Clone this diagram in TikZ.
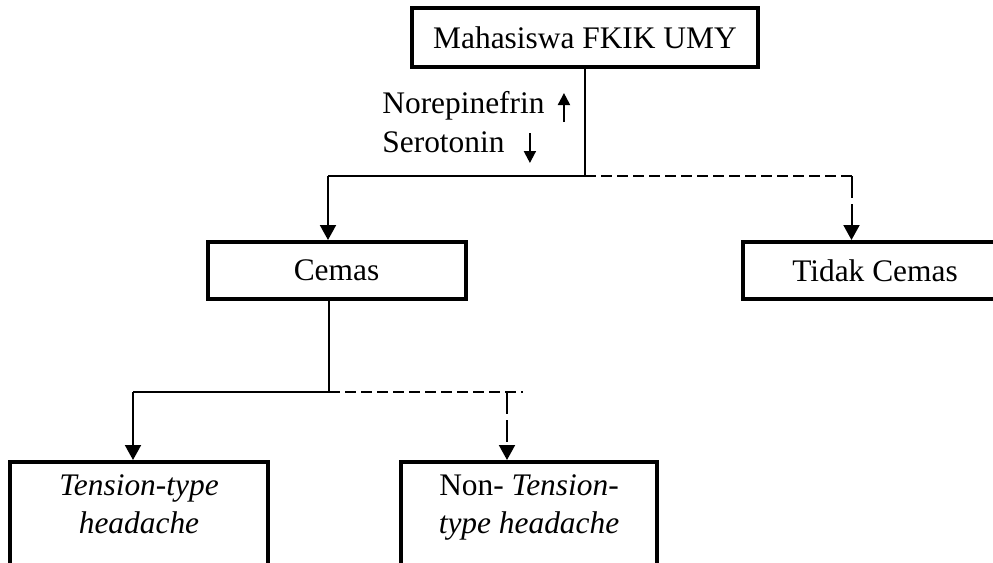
\documentclass[tikz,border=0pt]{standalone}
\usepackage{fontspec}
\setmainfont{Liberation Serif}
\usetikzlibrary{arrows.meta,positioning}

\begin{document}
\begin{tikzpicture}[
  >={Triangle[length=7.5pt,width=8pt]},
  every node/.style={font=\fontsize{15.7pt}{19pt}\selectfont},
  box/.style={draw, line width=2pt, align=center, minimum width=129pt, minimum height=28.5pt},
  tallbox/.style={box, inner ysep=0pt, text height=35.5pt, text depth=37.5pt},
  lbl/.style={inner sep=0pt},
  link/.style={line width=0.65pt},
  dlink/.style={line width=0.65pt, dash pattern=on 5.5pt off 2.5pt},
  arrow/.style={->, line width=1pt},
  darrow/.style={->, line width=1pt, dash pattern=on 11pt off 3pt},
  updown/.style={-{Triangle[length=6pt,width=6pt]}, line width=1pt}
]
\clip (0,0) rectangle (496.5pt,-281.5pt);
\node[box, minimum width=173pt, minimum height=29.5pt] (mhs) at (292.5pt,-18.75pt) {Mahasiswa FKIK UMY};
\node[box, below=85.5pt of mhs, xshift=-124.25pt] (cemas) {Cemas};
\node[box, minimum width=132.5pt, right=136.5pt of cemas] (tidak) {Tidak Cemas};
\node[tallbox, below=79.5pt of cemas, xshift=-98.75pt] (tension) {\textit{Tension-type}\\\textit{headache}};
\node[tallbox, minimum width=128pt, right=64.5pt of tension] (non) {Non- \textit{Tension-}\\\textit{type headache}};
% labels
\node[lbl, anchor=base west] (nor) at (191pt,-56.5pt) {Norepinefrin};
\node[lbl, anchor=base west] (sero) at ([yshift=-19.5pt]nor.base west) {Serotonin};
\draw[updown] ([xshift=9.5pt,yshift=-4.5pt]nor.base east) -- ++(0,14.5pt);
\draw[updown] ([xshift=12.5pt,yshift=9.5pt]sero.base east) -- ++(0,-15pt);
% junctions
\path ([xshift=-4.25pt]cemas.north) coordinate (cin)
      ([xshift=-11.75pt]tidak.north) coordinate (tin)
      ([xshift=-3.75pt]cemas.south) coordinate (cout)
      ([xshift=-3pt]tension.north) coordinate (tsin)
      ([xshift=-11pt]non.north) coordinate (nin);
\coordinate (j1) at ([yshift=-53.5pt]mhs.south);
\coordinate (j2) at ([yshift=-45.5pt]cout);
\coordinate (dend) at ([xshift=97pt]j2);
% connectors
\draw[link] (mhs.south) -- (j1) -- (j1 -| cin);
\draw[dlink] (j1) -- (j1 -| tin);
\draw[arrow] (j1 -| cin) -- (cin);
\draw[darrow] (j1 -| tin) -- (tin);
\draw[link] (cout) -- (j2) -- (j2 -| tsin);
\draw[dlink] (j2) -- (dend);
\draw[arrow] (j2 -| tsin) -- (tsin);
\draw[darrow] (j2 -| nin) -- (nin);
\end{tikzpicture}
\end{document}
